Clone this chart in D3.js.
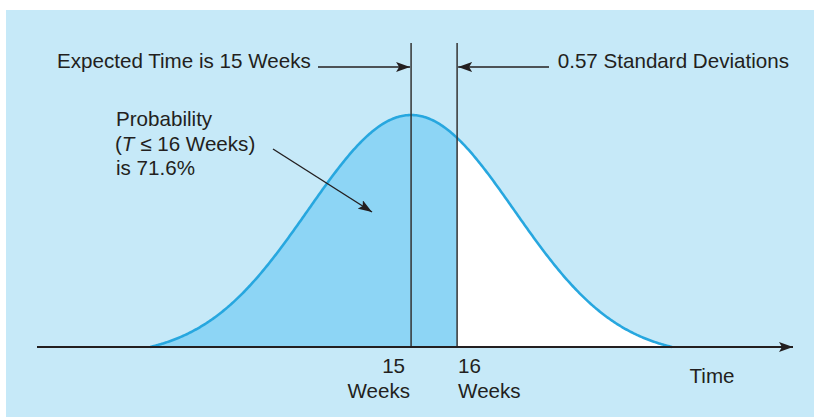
<!DOCTYPE html>
<html>
<head>
<meta charset="utf-8">
<script src="https://cdn.jsdelivr.net/npm/d3@7"></script>
<style>
  html, body { margin: 0; padding: 0; background: #ffffff; }
  svg { display: block; }
  text { font-family: "Liberation Sans", Arial, Helvetica, sans-serif; fill: #231f20; }
</style>
</head>
<body>
<svg id="chart" width="814" height="417"></svg>
<script>
// Project completion time: bell curve of total weeks, shaded up to the cutoff
const expectedWeeks = [15];
const cutoffWeeks = [16];
const curveSpreadWeeks = [2.24];      // drawn spread of the bell
const curveExtentWeeks = [9.33, 20.67];
const axisDomainWeeks = [6.87, 23.3];
const tickWeeks = [15, 16];
const tickLabels = ["15", "16"];
const probabilityLines = ["Probability", "(T \u2264 16 Weeks)", "is 71.6%"];
const meanLabel = ["Expected Time is 15 Weeks"];
const sdLabel = ["0.57 Standard Deviations"];
const axisTitle = ["Time"];

const mu = expectedWeeks[0];
const s = curveSpreadWeeks[0];
const bell = t => Math.exp(-0.5 * ((t - mu) / s) ** 2);
// bell trimmed so both ends sit on the axis
const edge = bell(curveExtentWeeks[0]);
const height = t => Math.max(0, (bell(t) - edge) / (1 - edge));

const svg = d3.select("#chart");
const ink = "#231f20";
const fs = 20.6;

// panel background
svg.append("rect").attr("x", 6).attr("y", 10).attr("width", 808).attr("height", 407)
  .attr("fill", "#c6e9f8");

const x = d3.scaleLinear().domain(axisDomainWeeks).range([37, 793]);
const y = d3.scaleLinear().domain([0, 1]).range([347, 115]);

// arrowhead marker
svg.append("defs").append("marker").attr("id", "head")
  .attr("viewBox", "0 0 14 10").attr("refX", 14).attr("refY", 5)
  .attr("markerWidth", 14).attr("markerHeight", 10).attr("markerUnits", "userSpaceOnUse")
  .attr("orient", "auto")
  .append("path").attr("d", "M0,0 L14,5 L0,10 L3,5 Z").attr("fill", ink);

// sample the curve
const samples = d3.range(0, 401).map(i => curveExtentWeeks[0] + (curveExtentWeeks[1] - curveExtentWeeks[0]) * i / 400);
const pts = samples.map(t => ({ t, h: height(t) }));

const area = d3.area().x(p => x(p.t)).y0(y(0)).y1(p => y(p.h));
const line = d3.line().x(p => x(p.t)).y(p => y(p.h));

// shaded region T <= cutoff, white region beyond
const cut = { t: cutoffWeeks[0], h: height(cutoffWeeks[0]) };
const left = pts.filter(p => p.t <= cut.t).concat([cut]);
const right = [cut].concat(pts.filter(p => p.t > cut.t));
svg.append("path").datum(left).attr("d", area).attr("fill", "#8dd5f5");
svg.append("path").datum(right).attr("d", area).attr("fill", "#ffffff");

// curve outline
svg.append("path").datum(pts).attr("d", line)
  .attr("fill", "none").attr("stroke", "#27a7df").attr("stroke-width", 2.6);

// vertical reference lines at the mean and the cutoff
tickWeeks.forEach(v => {
  svg.append("line").attr("x1", x(v)).attr("x2", x(v)).attr("y1", 43).attr("y2", y(0))
    .attr("stroke", "#333333").attr("stroke-width", 1.5);
});

// time axis with arrow
svg.append("line").attr("x1", x(axisDomainWeeks[0])).attr("x2", x(axisDomainWeeks[1]))
  .attr("y1", y(0)).attr("y2", y(0))
  .attr("stroke", ink).attr("stroke-width", 1.8).attr("marker-end", "url(#head)");

// tick labels
svg.append("text").attr("x", x(tickWeeks[0]) - 6).attr("y", 373).attr("text-anchor", "end")
  .attr("font-size", fs).text(tickLabels[0]);
svg.append("text").attr("x", x(tickWeeks[0]) - 1).attr("y", 398).attr("text-anchor", "end")
  .attr("font-size", fs).text("Weeks");
svg.append("text").attr("x", x(tickWeeks[1]) + 1).attr("y", 373).attr("text-anchor", "start")
  .attr("font-size", fs).text(tickLabels[1]);
svg.append("text").attr("x", x(tickWeeks[1]) + 1).attr("y", 398).attr("text-anchor", "start")
  .attr("font-size", fs).text("Weeks");
svg.append("text").attr("x", 712).attr("y", 383).attr("text-anchor", "middle")
  .attr("font-size", fs).text(axisTitle[0]);

// annotation: expected time
svg.append("text").attr("x", 57).attr("y", 68).attr("font-size", fs).text(meanLabel[0]);
svg.append("line").attr("x1", 318).attr("x2", x(mu) - 1).attr("y1", 67).attr("y2", 67)
  .attr("stroke", ink).attr("stroke-width", 1.4).attr("marker-end", "url(#head)");

// annotation: standard deviations
svg.append("text").attr("x", 789).attr("y", 68).attr("text-anchor", "end")
  .attr("font-size", fs).text(sdLabel[0]);
svg.append("line").attr("x1", 549).attr("x2", x(cutoffWeeks[0]) + 1).attr("y1", 67).attr("y2", 67)
  .attr("stroke", ink).attr("stroke-width", 1.4).attr("marker-end", "url(#head)");

// annotation: probability
const pl = svg.append("text").attr("font-size", fs);
pl.append("tspan").attr("x", 116).attr("y", 126).text(probabilityLines[0]);
const l2 = pl.append("tspan").attr("x", 115).attr("y", 151);
l2.append("tspan").text("(");
l2.append("tspan").attr("font-style", "italic").text("T");
l2.append("tspan").text(probabilityLines[1].slice(2));
pl.append("tspan").attr("x", 116).attr("y", 175).text(probabilityLines[2]);

svg.append("line").attr("x1", 273).attr("y1", 149).attr("x2", 372).attr("y2", 212)
  .attr("stroke", ink).attr("stroke-width", 1.4).attr("marker-end", "url(#head)");
</script>
</body>
</html>
